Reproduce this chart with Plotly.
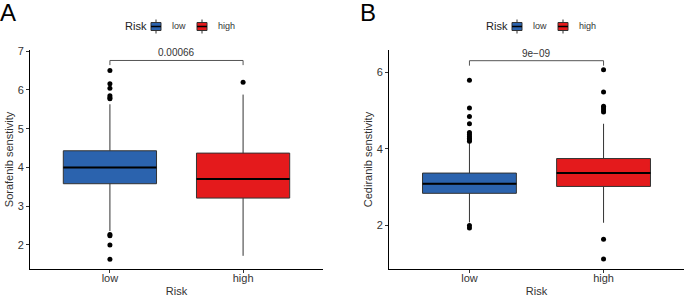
import plotly.graph_objects as go

# ---------------- data ----------------
groups = ["low", "high"]
group_colors = ["#2B63AE", "#E41A1C"]

# Panel A: Sorafenib sensitivity
a_q1 = [3.58, 3.21]
a_median = [4.00, 3.70]
a_q3 = [4.43, 4.37]
a_lowerfence = [2.36, 1.72]
a_upperfence = [5.63, 5.88]
a_out_low = [6.50, 6.16, 6.04, 5.85, 5.80, 5.77, 2.27, 2.24, 2.00, 1.63]
a_out_high = [6.20]
a_pvalue = "0.00066"
a_bracket_y = [6.64, 6.76]

# Panel B: Cediranib sensitivity
b_q1 = [2.84, 3.02]
b_median = [3.09, 3.37]
b_q3 = [3.37, 3.75]
b_lowerfence = [2.08, 2.07]
b_upperfence = [4.16, 4.66]
b_out_low = [5.80, 5.07, 4.85, 4.66, 4.43, 4.38, 4.33, 4.28, 4.24, 4.20, 2.00, 1.93]
b_out_high = [6.07, 5.49, 5.12, 5.07, 5.02, 4.97, 1.64, 1.12]
b_pvalue = "9e\u221209"
b_bracket_y = [6.18, 6.31]

a_yticks = [2, 3, 4, 5, 6, 7]
b_yticks = [2, 4, 6]

# ---------------- figure ----------------
BOX_W = 0.7
FONT = "Liberation Sans, Arial, sans-serif"
W, H = 685, 297
fig = go.Figure()


def add_panel(xa, ya, q1, med, q3, lf, uf, out_low, out_high, pval, br):
    xaxis = "x" if xa == 1 else f"x{xa}"
    yaxis = "y" if ya == 1 else f"y{ya}"
    for i, g in enumerate(groups):
        fig.add_trace(go.Box(
            x=[i], q1=[q1[i]], median=[med[i]], q3=[q3[i]],
            lowerfence=[lf[i]], upperfence=[uf[i]],
            width=BOX_W, whiskerwidth=0, boxpoints=False,
            fillcolor=group_colors[i], line=dict(color="#333333", width=1),
            name=g, showlegend=False,
            xaxis=xaxis, yaxis=yaxis, hoverinfo="skip"))
        # thicker median line
        fig.add_trace(go.Scatter(
            x=[i - BOX_W / 2, i + BOX_W / 2], y=[med[i], med[i]],
            mode="lines", line=dict(color="#000000", width=2),
            showlegend=False, xaxis=xaxis, yaxis=yaxis, hoverinfo="skip"))
    for i, pts in enumerate([out_low, out_high]):
        fig.add_trace(go.Scatter(
            x=[i] * len(pts), y=pts, mode="markers",
            marker=dict(color="#000000", size=5),
            showlegend=False, xaxis=xaxis, yaxis=yaxis, hoverinfo="skip"))
    # significance bracket
    fig.add_trace(go.Scatter(
        x=[0, 0, 1, 1], y=[br[0], br[1], br[1], br[0]], mode="lines",
        line=dict(color="#555555", width=1),
        showlegend=False, xaxis=xaxis, yaxis=yaxis, hoverinfo="skip"))
    fig.add_annotation(x=0.5, y=br[1], xref=xaxis, yref=yaxis, text=pval,
                       showarrow=False, yanchor="bottom", yshift=0,
                       font=dict(size=10, color="#333333", family=FONT))


add_panel(1, 1, a_q1, a_median, a_q3, a_lowerfence, a_upperfence,
          a_out_low, a_out_high, a_pvalue, a_bracket_y)
add_panel(2, 2, b_q1, b_median, b_q3, b_lowerfence, b_upperfence,
          b_out_low, b_out_high, b_pvalue, b_bracket_y)


def legend(x0):
    """Manual ggplot-style legend: title 'Risk' followed by two box keys."""
    yc = 26.5
    fig.add_annotation(x=x0 / W, y=1 - yc / H, xref="paper", yref="paper", text="Risk",
                       showarrow=False, xanchor="left", yanchor="middle",
                       font=dict(size=11, color="#222222", family=FONT))
    key_x = [x0 + 28, x0 + 74]
    for i, g in enumerate(groups):
        kx = key_x[i]
        # whisker stubs
        fig.add_shape(type="line", xref="paper", yref="paper",
                      x0=(kx + 5) / W, x1=(kx + 5) / W, y0=1 - (yc - 7) / H, y1=1 - (yc + 7) / H,
                      line=dict(color="#333333", width=1))
        fig.add_shape(type="rect", xref="paper", yref="paper",
                      x0=kx / W, x1=(kx + 10) / W, y0=1 - (yc - 4) / H, y1=1 - (yc + 4) / H,
                      fillcolor=group_colors[i], line=dict(color="#333333", width=1))
        fig.add_shape(type="line", xref="paper", yref="paper",
                      x0=kx / W, x1=(kx + 10) / W, y0=1 - yc / H, y1=1 - yc / H,
                      line=dict(color="#000000", width=1.5))
        fig.add_annotation(x=(kx + 19) / W, y=1 - yc / H, xref="paper", yref="paper", text=g,
                           showarrow=False, xanchor="left", yanchor="middle",
                           font=dict(size=9, color="#333333", family=FONT))


legend(123)
legend(484)

ydom = [(H - 269) / H, (H - 50) / H]

common_x = dict(tickmode="array", tickvals=[0, 1], ticktext=groups,
                range=[-0.6, 1.6], showgrid=False, zeroline=False, automargin=False,
                showline=True, linecolor="#000000", linewidth=1,
                ticks="outside", ticklen=3, tickcolor="#333333", ticklabelstandoff=-4,
                tickfont=dict(size=11, color="#333333", family=FONT),
                title=dict(text="Risk", font=dict(size=11, color="#333333", family=FONT), standoff=5))
common_y = dict(showgrid=False, zeroline=False, showline=True, linecolor="#000000",
                linewidth=1, ticks="outside", ticklen=3, tickcolor="#333333", automargin=False,
                tickfont=dict(size=11, color="#333333", family=FONT), domain=ydom)

fig.update_layout(
    width=W, height=H,
    margin=dict(l=0, r=0, t=0, b=0, autoexpand=False),
    paper_bgcolor="white", plot_bgcolor="white",
    font=dict(family=FONT),
    showlegend=False,
    xaxis=dict(common_x, domain=[30 / W, 323 / W], anchor="y"),
    yaxis=dict(common_y, range=[1.38, 7.03], tickvals=a_yticks, anchor="x",
               title=dict(text="Sorafenib senstivity", standoff=1,
                          font=dict(size=11, color="#333333", family=FONT))),
    xaxis2=dict(common_x, domain=[389 / W, 684 / W], anchor="y2"),
    yaxis2=dict(common_y, range=[0.86, 6.59], tickvals=b_yticks, anchor="x2",
                title=dict(text="Cediranib senstivity", standoff=1,
                           font=dict(size=11, color="#333333", family=FONT))),
)

fig.add_annotation(x=0, y=1, xref="paper", yref="paper", text="A", showarrow=False,
                   xanchor="left", yanchor="top", xshift=-2, yshift=3,
                   font=dict(size=24, color="#000000", family=FONT))
fig.add_annotation(x=358 / W, y=1, xref="paper", yref="paper", text="B", showarrow=False,
                   xanchor="left", yanchor="top", xshift=0, yshift=3,
                   font=dict(size=24, color="#000000", family=FONT))

fig.write_html("out.html", config={"displayModeBar": False},
               post_script="document.body.style.margin='0';document.body.style.overflow='hidden';")
